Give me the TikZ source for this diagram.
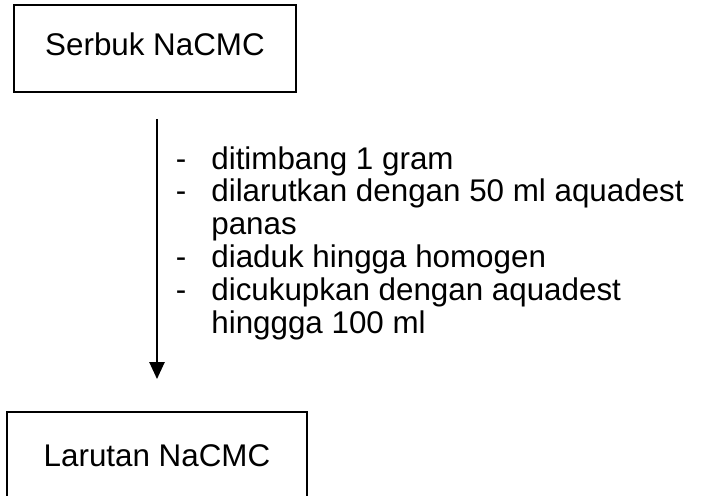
\documentclass[tikz,border=0pt]{standalone}
\usepackage{fontspec}
\setmainfont{Liberation Sans}
\usepackage{tikz}
\usetikzlibrary{positioning,arrows.meta}

\begin{document}
\begin{tikzpicture}[
  font=\fontsize{22.3pt}{23.4pt}\selectfont,
  kotak/.style={draw, line width=1.4pt, minimum height=2.175cm, inner sep=0pt},
  panah/.style={-{Triangle[length=4.2mm, width=3.75mm]}, line width=1.4pt},
  daftar/.style={anchor=base west, inner sep=0pt, align=left}
]
  \useasboundingbox (0,0) rectangle (17.575,-12.375);
  \node[kotak, minimum width=7.05cm, text height=1.05em, text depth=0pt] (serbuk) at (3.875,-1.2125) {Serbuk NaCMC};
  \node[kotak, minimum width=7.5cm] (larutan) at (3.925,-11.3875) {Larutan NaCMC};

  \draw[panah, shorten <=6.5mm, shorten >=8mm] (larutan.north |- serbuk.south) -- (larutan.north);
  \node[daftar] (langkah) at (4.3875,-4.225)
        {\begin{tabular}[t]{@{}p{0.89cm}@{}l@{}}
         - & ditimbang 1 gram\\
         - & dilarutkan dengan 50 ml aquadest\\
           & panas\\
         - & diaduk hingga homogen\\
         - & dicukupkan dengan aquadest\\
           & hinggga 100 ml
         \end{tabular}};
\end{tikzpicture}
\end{document}
